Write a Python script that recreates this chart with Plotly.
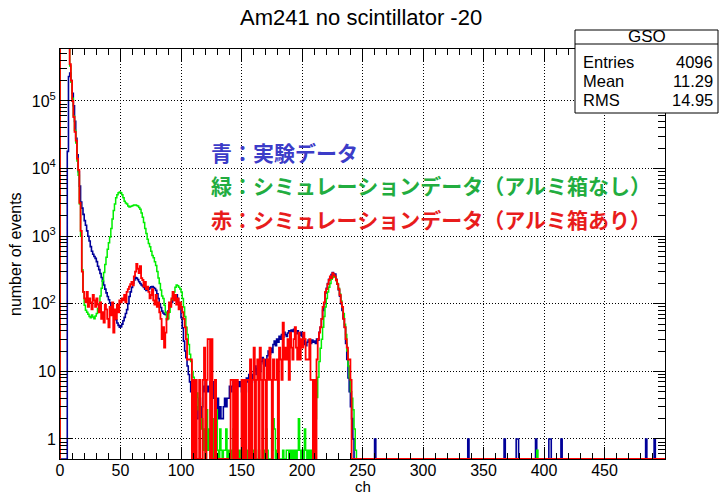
import numpy as np
import plotly.graph_objects as go

# ---------------------------------------------------------------------------
# Spectrum data (one value per channel, ch 0..249). Channels above 249 are
# empty except for the isolated counts listed further down.
# ---------------------------------------------------------------------------
blue_counts = [
    0, 0, 0, 0, 0, 0, 18000, 230000, 260000, 200000,
    130000, 85000, 50000, 28000, 16000, 9000, 5500, 3200, 2600, 2100,
    1700, 1450, 1200, 1000, 850, 700, 600, 540, 500, 470,
    420, 360, 320, 280, 245, 215, 190, 165, 145, 128,
    115, 103, 92, 80, 72, 64, 58, 52, 48, 45,
    46, 50, 56, 63, 72, 82, 100, 128, 150, 175,
    200, 225, 245, 240, 228, 212, 200, 190, 184, 175,
    165, 158, 168, 163, 172, 178, 180, 174, 168, 158,
    140, 120, 100, 88, 78, 73, 70, 69, 71, 78,
    88, 98, 105, 112, 118, 128, 136, 120, 102, 90,
    62, 44, 28, 20, 16, 12, 9, 7, 5, 3,
    5, 4, 2, 2, 3, 4, 2, 3, 6, 5,
    7, 5, 6, 5, 7, 6, 7, 4, 3, 2,
    4, 2, 3, 2, 2, 3, 4, 3, 4, 4,
    6, 5, 6, 7, 4, 6, 7, 6, 7, 6,
    5, 7, 6, 5, 8, 7, 9, 8, 7, 9,
    10, 12, 9, 11, 13, 10, 14, 16, 13, 15,
    12, 17, 20, 18, 22, 19, 25, 28, 24, 30,
    27, 33, 30, 35, 32, 38, 35, 33, 37, 40,
    36, 41, 39, 42, 38, 36, 40, 37, 34, 38,
    33, 30, 25, 24, 27, 29, 28, 26, 29, 27,
    28, 26, 30, 29, 38, 45, 60, 80, 100, 145,
    170, 200, 230, 240, 270, 290, 260, 275, 230, 195,
    160, 130, 100, 80, 60, 45, 26, 15, 8, 5,
    3, 2, 1, 0, 0, 0, 0, 0, 0, 0,
]

green_counts = [
    800000, 800000, 800000, 800000, 800000, 800000, 800000, 800000, 330000, 190000,
    110000, 60000, 37000, 24000, 13000, 8000, 3000, 1000, 320, 150,
    95, 80, 75, 70, 65, 62, 68, 64, 60, 66,
    72, 85, 100, 130, 170, 220, 290, 380, 490, 640,
    800, 970, 1300, 1800, 2400, 3000, 3700, 4100, 4400, 4500,
    4400, 4100, 3700, 3300, 3100, 3000, 2800, 2700, 2750, 2800,
    2850, 2900, 2900, 2850, 2800, 2650, 2500, 2200, 1900, 1600,
    1300, 1100, 900, 780, 700, 600, 520, 480, 420, 370,
    300, 240, 200, 160, 130, 120, 95, 75, 58, 60,
    75, 95, 115, 130, 150, 175, 190, 185, 175, 165,
    150, 120, 90, 65, 45, 35, 25, 18, 14, 10,
    8.2, 6.1, 4.1, 4.8, 2.7, 3.4, 1.4, 2.0, 0.68, 1.4,
    0, 2.7, 0.68, 1.4, 0, 0.68, 2.0, 0, 0.68, 2.7,
    0.68, 0, 1.4, 0.68, 0, 0.68, 0.68, 1.4, 0, 0.68,
    0, 0.68, 0, 1.4, 0.68, 0, 0, 0.68, 0, 0.68,
    0, 0, 0.68, 0, 0, 0.68, 2.0, 2.7, 0, 0,
    0.68, 0, 0, 0, 0.68, 0, 0, 0, 0.68, 0,
    1.4, 0.68, 0, 0, 0, 0.68, 2.0, 1.4, 0, 0.68,
    0, 0, 0, 0, 0.68, 0, 0, 0.68, 0.68, 0,
    0.68, 0, 0.68, 0, 0.68, 0, 0.68, 2.0, 0.68, 0,
    0.68, 0, 1.4, 0.68, 0, 0.68, 0, 0.68, 0, 0,
    0, 2.0, 4.1, 8.2, 14, 22, 30, 45, 65, 90,
    120, 150, 175, 200, 230, 245, 255, 250, 220, 200,
    170, 140, 110, 90, 72, 50, 35, 20, 12, 8,
    5, 4, 2.7, 1.4, 0.68, 0, 0, 0, 0, 0,
]

red_counts = [
    800000, 800000, 800000, 800000, 800000, 800000, 800000, 800000, 350000, 200000,
    100000, 58000, 35000, 26000, 14000, 9600, 3100, 1200, 300, 150,
    120, 105, 150, 90, 120, 105, 82.5, 135, 112.5, 90,
    120, 97.5, 75, 105, 60, 75, 52.5, 97.5, 82.5, 60,
    45, 90, 67.5, 105, 37.5, 82.5, 60, 97.5, 75, 112.5,
    105, 120, 112.5, 135, 105, 150, 165, 180, 195, 210,
    187.5, 255, 300, 390, 330, 285, 360, 240, 225, 180,
    210, 165, 180, 150, 120, 135, 165, 112.5, 97.5, 135,
    90, 105, 75, 60, 30, 45, 22.5, 37.5, 60, 75,
    105, 90, 120, 150, 112.5, 135, 97.5, 120, 82.5, 105,
    90, 75, 60, 45, 30, 15, 15, 15, 15, 0,
    7.5, 0, 7.5, 0, 0, 7.5, 0, 0, 7.5, 22.5,
    0, 7.5, 30, 30, 0, 30, 0, 0, 7.5, 0,
    0, 0, 0, 0, 0, 0, 0, 0, 0, 0,
    0, 7.5, 7.5, 0, 7.5, 0, 7.5, 0, 0, 0,
    7.5, 0, 7.5, 0, 7.5, 7.5, 0, 15, 0, 7.5,
    22.5, 0, 7.5, 15, 0, 22.5, 7.5, 0, 15, 7.5,
    0, 15, 7.5, 22.5, 7.5, 0, 15, 7.5, 7.5, 15,
    0, 22.5, 15, 7.5, 52.5, 15, 22.5, 15, 30, 7.5,
    37.5, 22.5, 15, 30, 45, 22.5, 15, 37.5, 15, 30,
    22.5, 37.5, 30, 15, 15, 15, 30, 7.5, 7.5, 0,
    7.5, 0, 15, 30, 37.5, 45, 60, 90, 105, 150,
    165, 195, 225, 255, 240, 285, 270, 255, 225, 195,
    165, 135, 105, 90, 60, 45, 30, 22.5, 15, 15,
    7.5, 0, 0, 0, 0, 0, 0, 0, 0, 0,
]

# isolated counts in the high-channel tail
blue_tail_ch = [260, 337, 367, 377, 378, 393, 404, 405, 414, 484, 491]
blue_tail_val = [1, 1, 1, 1, 1, 1, 1, 1, 1, 1, 1]
green_tail_ch = [394]
green_tail_val = [0.68]

# axis tick labels
x_tick_vals = [0, 50, 100, 150, 200, 250, 300, 350, 400, 450]
y_tick_vals = [1, 10, 100, 1000, 10000, 100000]
y_tick_text = ["1", "10", "10<sup>2</sup>", "10<sup>3</sup>", "10<sup>4</sup>", "10<sup>5</sup>"]

stats_rows = [("Entries", "4096"), ("Mean", "11.29"), ("RMS", "14.95")]

legend_lines = [
    ("青：実験データ", "#3c3cc8"),
    ("緑：シミュレーションデータ（アルミ箱なし）", "#22ad3f"),
    ("赤：シミュレーションデータ（アルミ箱あり）", "#e81c1c"),
]

# ---------------------------------------------------------------------------
N_CH = 500
Y_LOG_RANGE = [-0.296, 5.769]
Y_FLOOR = 10 ** Y_LOG_RANGE[0]

W, H = 721, 495
ML, MR, MT, MB = 60, 56, 49, 36
PW, PH = W - ML - MR, H - MT - MB


def px_x(px):
    return (px - ML) / PW


def px_y(py):
    return (H - MB - py) / PH


def full_spectrum(main, tail_ch, tail_val):
    arr = np.zeros(N_CH)
    arr[: len(main)] = main
    arr[tail_ch] = tail_val
    return arr


def step_xy(values):
    # ROOT-style outline: start on the frame bottom, one flat step per channel,
    # empty channels drawn on the frame bottom.
    v = np.where(values > 0, values, Y_FLOOR)
    x = np.concatenate([[0], np.arange(N_CH), [N_CH]])
    y = np.concatenate([[Y_FLOOR], v, [v[-1]]])
    return x, y


series = [
    ("blue", full_spectrum(blue_counts, blue_tail_ch, blue_tail_val), "#000099", 1.6),
    ("green", full_spectrum(green_counts, green_tail_ch, green_tail_val), "#00ee00", 1.5),
    ("red", full_spectrum(red_counts, [], []), "#ff0000", 1.8),
]

fig = go.Figure()
for name, vals, color, width in series:
    x, y = step_xy(vals)
    fig.add_trace(go.Scatter(
        x=x, y=y, mode="lines", name=name,
        line=dict(color=color, width=width, shape="hv"),
        showlegend=False, hoverinfo="skip",
    ))

axis_font = dict(family="Liberation Sans, Arial, sans-serif", size=16, color="black")

y_minor = [m * 10 ** e for e in range(-1, 6) for m in range(2, 10)]
y_minor = [v for v in y_minor if 10 ** Y_LOG_RANGE[0] < v < 10 ** Y_LOG_RANGE[1]]

fig.update_xaxes(
    range=[0, N_CH], showline=True, linecolor="black", linewidth=1, mirror="ticks",
    ticks="inside", ticklen=12, tickcolor="black", tickwidth=1, ticklabelstandoff=-3,
    tickmode="array", tickvals=x_tick_vals, ticktext=[str(v) for v in x_tick_vals],
    tickfont=axis_font, showgrid=True, gridcolor="black", gridwidth=1, griddash="1px,2px",
    minor=dict(ticks="inside", ticklen=6, tickcolor="black", tickwidth=1,
               tickmode="linear", tick0=0, dtick=10, showgrid=False),
    zeroline=False,
)
fig.update_yaxes(
    type="log", range=Y_LOG_RANGE, showline=True, linecolor="black", linewidth=1, mirror="ticks",
    ticks="inside", ticklen=12, tickcolor="black", tickwidth=1,
    tickmode="array", tickvals=y_tick_vals, ticktext=y_tick_text,
    tickfont=axis_font, showgrid=True, gridcolor="black", gridwidth=1, griddash="1px,2px",
    minor=dict(ticks="inside", ticklen=7, tickcolor="black", tickwidth=1,
               tickmode="array", tickvals=y_minor, showgrid=False),
    zeroline=False,
)

annotations = [
    dict(text="Am241 no scintillator -20", x=px_x(361), y=px_y(18), xref="paper", yref="paper",
         showarrow=False, xanchor="center", yanchor="middle",
         font=dict(family="Liberation Sans, Arial, sans-serif", size=22, color="black")),
    dict(text="ch", x=px_x(363), y=px_y(486.5), xref="paper", yref="paper",
         showarrow=False, xanchor="center", yanchor="middle",
         font=dict(family="Liberation Sans, Arial, sans-serif", size=15, color="black")),
    dict(text="number of events", x=px_x(15), y=px_y(254), xref="paper", yref="paper",
         showarrow=False, xanchor="center", yanchor="middle", textangle=-90, font=axis_font),
]

# hand-written colour key inside the frame
for i, (txt, col) in enumerate(legend_lines):
    annotations.append(dict(
        text="<b>" + txt + "</b>", x=px_x(209), y=px_y(152 + 33.5 * i),
        xref="paper", yref="paper", showarrow=False, xanchor="left", yanchor="middle",
        font=dict(family="Noto Sans CJK JP", size=21, color=col),
    ))

# statistics box
BOX_L, BOX_R, BOX_T, BOX_B, BOX_SEP = 575, 718, 30, 113, 44
stats_font = dict(family="Liberation Sans, Arial, sans-serif", size=16.5, color="black")
shapes = [
    dict(type="rect", xref="paper", yref="paper", x0=px_x(BOX_L), x1=px_x(BOX_R),
         y0=px_y(BOX_B), y1=px_y(BOX_T), line=dict(color="black", width=1),
         fillcolor="white", layer="above"),
    dict(type="line", xref="paper", yref="paper", x0=px_x(BOX_L), x1=px_x(BOX_R),
         y0=px_y(BOX_SEP), y1=px_y(BOX_SEP), line=dict(color="black", width=1), layer="above"),
]
annotations.append(dict(text="GSO", x=px_x((BOX_L + BOX_R) / 2), y=px_y(37), xref="paper",
                        yref="paper", showarrow=False, xanchor="center", yanchor="middle",
                        font=dict(family="Liberation Sans, Arial, sans-serif", size=17, color="black")))
for i, (label, val) in enumerate(stats_rows):
    yy = px_y(62 + 19 * i)
    annotations.append(dict(text=label, x=px_x(581), y=yy, xref="paper", yref="paper",
                            showarrow=False, xanchor="left", yanchor="middle", font=stats_font))
    annotations.append(dict(text=val, x=px_x(715), y=yy, xref="paper", yref="paper",
                            showarrow=False, xanchor="right", yanchor="middle", font=stats_font))

fig.update_layout(
    width=W, height=H, margin=dict(l=ML, r=MR, t=MT, b=MB, pad=0),
    paper_bgcolor="white", plot_bgcolor="white",
    annotations=annotations, shapes=shapes, showlegend=False,
)

fig.write_html("out.html")
